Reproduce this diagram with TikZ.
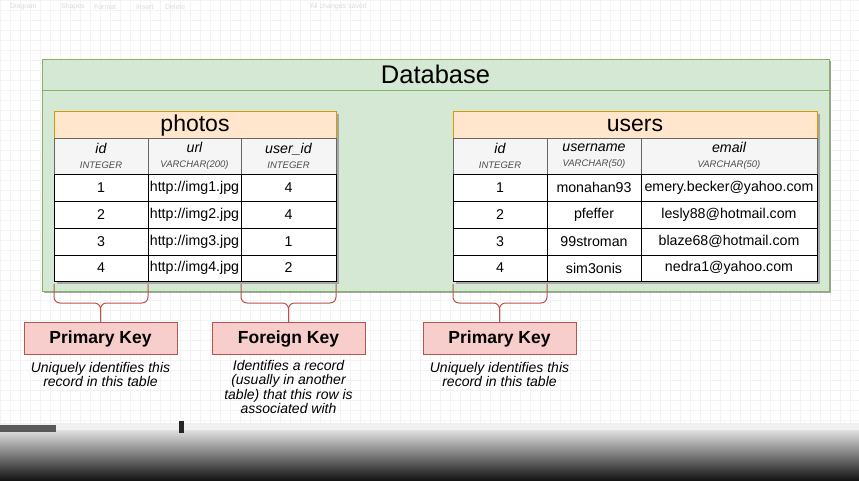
\documentclass[tikz,border=0pt]{standalone}
\usepackage{fontspec}
\setmainfont{Liberation Sans}
\usetikzlibrary{shadows,positioning,calc}
\definecolor{dbfill}{HTML}{D5E8D4}
\definecolor{dbline}{HTML}{82B366}
\definecolor{tfill}{HTML}{FFE6CC}
\definecolor{tline}{HTML}{D79B00}
\definecolor{hfill}{HTML}{F5F5F5}
\definecolor{kfill}{HTML}{F8CECC}
\definecolor{kline}{HTML}{B85450}
\definecolor{gridc}{HTML}{F3F3F3}
\newcommand\cellnode[7]{%
  \node[#1, minimum width={(#5-#3)*1pt}, minimum height={(#6-#4)*1pt}] (#2) at ({(#3+#5)/2},{(#4+#6)/2}) {#7};}
\newcommand\hdr[2]{{\fontsize{14.2}{15}\selectfont\itshape #1}\\[3pt]{\fontsize{9.5}{10}\selectfont\itshape\color{black!70}#2}}
\begin{document}
\begin{tikzpicture}[x=1pt,y=-1pt,
  every node/.style={inner sep=0pt, outer sep=0pt},
  dbbody/.style={draw=dbline, fill=dbfill, line width=1pt,
     drop shadow={shadow xshift=2pt, shadow yshift=-2pt, opacity=0.35, fill=black}},
  dbhead/.style={draw=dbline, fill=dbfill, line width=1pt, font=\fontsize{25.5}{27}\selectfont},
  ttitle/.style={draw=tline, fill=tfill, line width=1pt, font=\fontsize{23}{25}\selectfont,
     text height=17pt, text depth=4pt},
  thead/.style={draw=black!60, fill=hfill, line width=0.8pt, align=center},
  tcell/.style={draw=black, fill=white, line width=1pt, font=\fontsize{14.2}{16}\selectfont},
  keybox/.style={draw=kline, fill=kfill, line width=1pt, font=\fontsize{17.5}{19}\selectfont\bfseries,
     text height=14pt, text depth=3pt},
  desc/.style={align=center, font=\fontsize{14}{14.5}\selectfont\itshape},
  brace/.style={draw=kline, line width=1pt, rounded corners=6pt},
  ui/.style={text=black!14, font=\fontsize{7}{8}\selectfont, anchor=west}]
\useasboundingbox (0,0) rectangle (859,480);
\fill[white] (0,0) rectangle (859,480);
\draw[gridc, step=10pt, line width=0.5pt] (0,0) grid (859,425);
% faint toolbar
\node[ui] (u1) at (10,7) {Diagram};
\node[ui] (u2) at (61,7) {Shapes};
\node[ui] (u3) at (94,7) {Format};
\node[ui] (u4) at (136,7) {Insert};
\node[ui] (u5) at (165,7) {Delete};
\node[ui] (u6) at (310,7) {All changes saved};
% database container
\cellnode{dbbody}{db}{42}{59}{829}{291}{}
\cellnode{dbhead}{dbt}{42}{59}{829}{90}{Database}
% table shadows
\fill[black!35] (57,114) rectangle (339,284);
\fill[black!35] (456,114) rectangle (820,284);
% photos table
\cellnode{ttitle}{pt}{54}{111}{336}{138}{photos}
\cellnode{thead}{ph1}{54}{138}{148}{174}{\hdr{id}{INTEGER}}
\cellnode{thead}{ph2}{148}{138}{241}{174}{\hdr{url}{VARCHAR(200)}}
\cellnode{thead}{ph3}{241}{138}{336}{174}{\hdr{user\_id}{INTEGER}}
\cellnode{tcell}{pr1a}{54}{174}{148}{201}{1}
\cellnode{tcell}{pr1b}{148}{174}{241}{201}{http://img1.jpg}
\cellnode{tcell}{pr1c}{241}{174}{336}{201}{4}
\cellnode{tcell}{pr2a}{54}{201}{148}{228}{2}
\cellnode{tcell}{pr2b}{148}{201}{241}{228}{http://img2.jpg}
\cellnode{tcell}{pr2c}{241}{201}{336}{228}{4}
\cellnode{tcell}{pr3a}{54}{228}{148}{255}{3}
\cellnode{tcell}{pr3b}{148}{228}{241}{255}{http://img3.jpg}
\cellnode{tcell}{pr3c}{241}{228}{336}{255}{1}
\cellnode{tcell}{pr4a}{54}{255}{148}{281}{4}
\cellnode{tcell}{pr4b}{148}{255}{241}{281}{http://img4.jpg}
\cellnode{tcell}{pr4c}{241}{255}{336}{281}{2}
% users table
\cellnode{ttitle}{ut}{453}{111}{817}{138}{users}
\cellnode{thead}{uh1}{453}{138}{547}{174}{\hdr{id}{INTEGER}}
\cellnode{thead}{uh2}{547}{138}{641}{174}{\hdr{username}{VARCHAR(50)}}
\cellnode{thead}{uh3}{641}{138}{817}{174}{\hdr{email}{VARCHAR(50)}}
\cellnode{tcell}{ur1a}{453}{174}{547}{201}{1}
\cellnode{tcell}{ur1b}{547}{174}{641}{201}{monahan93}
\cellnode{tcell}{ur1c}{641}{174}{817}{201}{emery.becker@yahoo.com}
\cellnode{tcell}{ur2a}{453}{201}{547}{228}{2}
\cellnode{tcell}{ur2b}{547}{201}{641}{228}{pfeffer}
\cellnode{tcell}{ur2c}{641}{201}{817}{228}{lesly88@hotmail.com}
\cellnode{tcell}{ur3a}{453}{228}{547}{255}{3}
\cellnode{tcell}{ur3b}{547}{228}{641}{255}{99stroman}
\cellnode{tcell}{ur3c}{641}{228}{817}{255}{blaze68@hotmail.com}
\cellnode{tcell}{ur4a}{453}{255}{547}{281}{4}
\cellnode{tcell}{ur4b}{547}{255}{641}{281}{sim3onis}
\cellnode{tcell}{ur4c}{641}{255}{817}{281}{nedra1@yahoo.com}
% key boxes
\cellnode{keybox}{pk1}{24}{322}{177}{354}{Primary Key}
\cellnode{keybox}{fk}{212}{322}{365}{354}{Foreign Key}
\cellnode{keybox}{pk2}{423}{322}{576}{354}{Primary Key}
% braces
\draw[brace] ([yshift=-3pt]pr4a.south west) |- ([yshift=19pt]pk1.north) -- (pk1.north);
\draw[brace] ([yshift=-3pt]pr4a.south east) |- ([yshift=19pt]pk1.north) -- (pk1.north);
\draw[brace] ([yshift=-3pt]pr4c.south west) |- ([yshift=19pt]fk.north) -- (fk.north);
\draw[brace] ([yshift=-3pt]pr4c.south east) |- ([yshift=19pt]fk.north) -- (fk.north);
\draw[brace] ([yshift=-3pt]ur4a.south west) |- ([yshift=19pt]pk2.north) -- (pk2.north);
\draw[brace] ([yshift=-3pt]ur4a.south east) |- ([yshift=19pt]pk2.north) -- (pk2.north);
% descriptions
\node[desc, anchor=north] (d1) at ([yshift=-8pt]pk1.south) {Uniquely identifies this\\record in this table};
\node[desc, anchor=north] (d2) at ([yshift=-6pt]fk.south) {Identifies a record\\(usually in another\\table) that this row is\\associated with};
\node[desc, anchor=north] (d3) at ([yshift=-8pt]pk2.south) {Uniquely identifies this\\record in this table};
% bottom video bar
\fill[black!6] (0,423) rectangle (859,430);
\shade[top color=black!12, bottom color=black!92] (0,430) rectangle (859,480);
\fill[black!65] (0,425) rectangle (56,432);
\fill[black!85] (179,421) rectangle (184,433);
\end{tikzpicture}
\end{document}
